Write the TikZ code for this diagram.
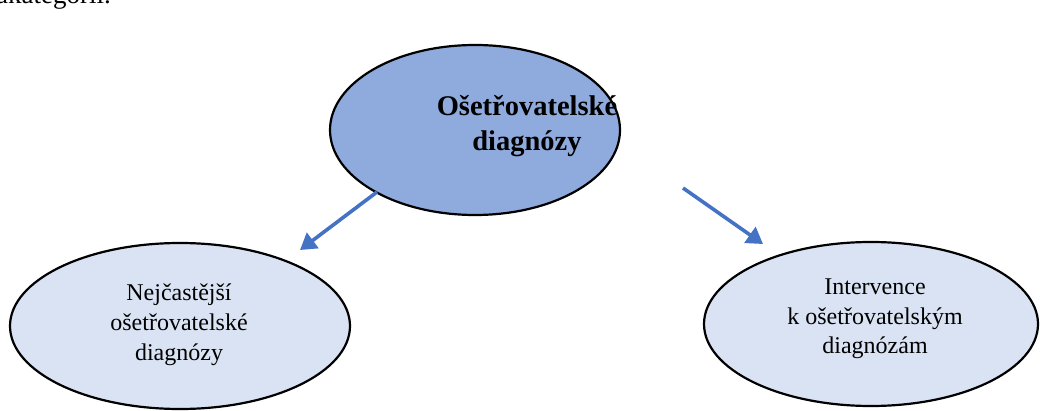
\documentclass[tikz,border=0pt]{standalone}
\usepackage{fontspec}
\setmainfont{Liberation Serif}
\usetikzlibrary{shapes.geometric,arrows.meta}
\definecolor{topfill}{RGB}{143,170,220}
\definecolor{lightfill}{RGB}{218,227,243}
\definecolor{arrowblue}{RGB}{68,114,196}
\tikzset{
  bubble/.style={ellipse, draw=black, line width=2.2pt, inner sep=0pt},
  conn/.style={draw=arrowblue, line width=3.6pt, -{Triangle[length=16pt,width=19pt]}},
  lbl/.style={align=center, inner sep=0pt}
}
\begin{document}
\begin{tikzpicture}[x=1pt,y=-1pt]
\useasboundingbox (0,0) rectangle (1040,411);
\begin{scope}
\clip (0,0) rectangle (1040,411);
\node[anchor=base west, inner sep=0pt, font=\fontsize{27}{30}\selectfont] (prev) at (-4,4) {akategorií.};
\node[bubble, fill=topfill, minimum width=290pt, minimum height=170pt] (top) at (475,130) {};
\node[bubble, fill=lightfill, minimum width=340pt, minimum height=166pt] (left) at (180,326) {};
\node[bubble, fill=lightfill, minimum width=334pt, minimum height=164pt] (right) at (871,324) {};
\end{scope}
\node[lbl, font=\bfseries\fontsize{28.5}{35}\selectfont] (toptext) at (527,126) {Ošetřovatelské\\diagnózy};
\node[lbl, font=\fontsize{24}{30}\selectfont] (lefttext) at (179,325) {Nejčastější\\ošetřovatelské\\diagnózy};
\node[lbl, font=\fontsize{24}{29.5}\selectfont] (righttext) at (875,319) {Intervence\\k ošetřovatelským\\diagnózám};
\coordinate (a1s) at (377,192);
\coordinate (a1e) at (300,250);
\coordinate (a2s) at (683,188);
\coordinate (a2e) at (763,244);
\draw[conn] (a1s) -- (a1e);
\draw[conn] (a2s) -- (a2e);
\end{tikzpicture}
\end{document}
